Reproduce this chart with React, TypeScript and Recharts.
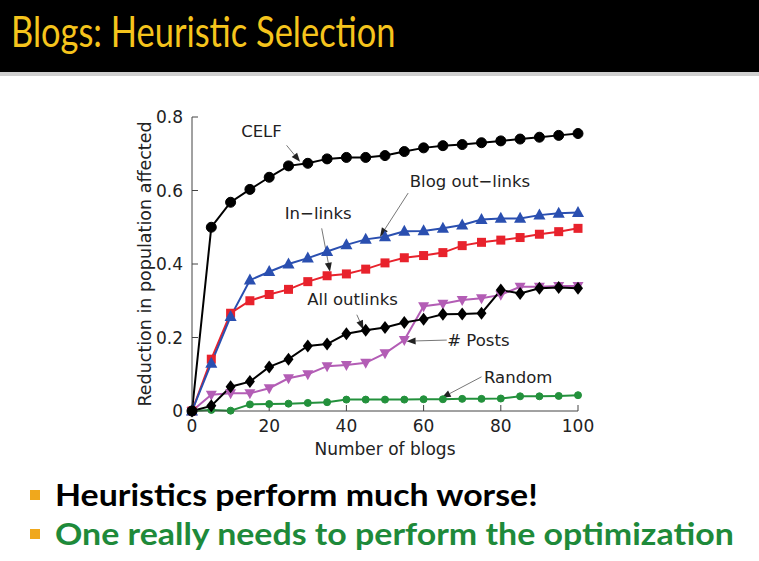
import React from 'react';
import { LineChart, Line, XAxis, YAxis, ReferenceLine, ReferenceDot } from 'recharts';

const blogs = [0, 5, 10, 15, 20, 25, 30, 35, 40, 45, 50, 55, 60, 65, 70, 75, 80, 85, 90, 95, 100];
const celf = [0, 0.5, 0.568, 0.603, 0.636, 0.667, 0.674, 0.686, 0.69, 0.69, 0.695, 0.706, 0.716, 0.722, 0.725, 0.73, 0.735, 0.74, 0.745, 0.75, 0.755];
const blogOutLinks = [0, 0.13, 0.257, 0.356, 0.379, 0.4, 0.416, 0.434, 0.452, 0.467, 0.474, 0.489, 0.49, 0.497, 0.506, 0.521, 0.524, 0.524, 0.533, 0.538, 0.54];
const inLinks = [0, 0.141, 0.266, 0.3, 0.317, 0.331, 0.352, 0.368, 0.373, 0.386, 0.403, 0.417, 0.423, 0.431, 0.45, 0.459, 0.465, 0.472, 0.481, 0.488, 0.497];
const allOutlinks = [0, 0.014, 0.066, 0.08, 0.12, 0.141, 0.177, 0.182, 0.21, 0.22, 0.227, 0.241, 0.25, 0.263, 0.264, 0.266, 0.329, 0.32, 0.334, 0.336, 0.334];
const posts = [0, 0.044, 0.048, 0.048, 0.062, 0.089, 0.1, 0.122, 0.125, 0.131, 0.157, 0.193, 0.285, 0.292, 0.302, 0.307, 0.316, 0.338, 0.338, 0.34, 0.34];
const random = [0, 0.003, 0.001, 0.018, 0.019, 0.02, 0.022, 0.024, 0.031, 0.031, 0.031, 0.031, 0.032, 0.032, 0.033, 0.033, 0.034, 0.04, 0.04, 0.041, 0.043];

const xTicks = [0, 20, 40, 60, 80, 100];
const yTicks = [0, 0.2, 0.4, 0.6, 0.8];

// annotation text + arrow (from -> to) in data coordinates
const notes = [
  { text: 'CELF', tx: 18, ty: 0.762, from: [24.5, 0.723], to: [28, 0.678] },
  { text: 'Blog out\u2212links', tx: 72, ty: 0.626, from: [56, 0.593], to: [48.7, 0.474] },
  { text: 'In\u2212links', tx: 32.7, ty: 0.538, from: [33.6, 0.497], to: [35.75, 0.379] },
  { text: 'All outlinks', tx: 41.6, ty: 0.304, from: [42.7, 0.262], to: [44.4, 0.222] },
  { text: '# Posts', tx: 74.2, ty: 0.193, from: [66, 0.193], to: [55.6, 0.19] },
  { text: 'Random', tx: 84.5, ty: 0.093, from: [75, 0.093], to: [64.7, 0.036] },
];

const data = blogs.map((b, i) => ({
  blogs: b,
  celf: celf[i],
  blogOut: blogOutLinks[i],
  inLinks: inLinks[i],
  allOut: allOutlinks[i],
  posts: posts[i],
  random: random[i],
}));

const FONT = '"DejaVu Sans", "Liberation Sans", sans-serif';
const SLIDE_FONT = 'Lato, "Open Sans", sans-serif';

const makeDot = (kind: string, color: string, size: number) => (props: any) => {
  const { cx, cy, index } = props;
  const k = `${kind}-${index}`;
  if (cx == null || cy == null) return <g key={k} />;
  const s = size;
  if (kind === 'circle') return <circle key={k} cx={cx} cy={cy} r={s} fill={color} stroke={color} />;
  if (kind === 'square') return <rect key={k} x={cx - s} y={cy - s} width={2 * s} height={2 * s} fill={color} />;
  if (kind === 'diamond')
    return <polygon key={k} points={`${cx},${cy - s * 1.3} ${cx + s},${cy} ${cx},${cy + s * 1.3} ${cx - s},${cy}`} fill={color} />;
  if (kind === 'up')
    return <polygon key={k} points={`${cx},${cy - s * 1.2} ${cx + s * 1.1},${cy + s * 0.8} ${cx - s * 1.1},${cy + s * 0.8}`} fill={color} />;
  return <polygon key={k} points={`${cx},${cy + s * 1.2} ${cx + s * 1.1},${cy - s * 0.8} ${cx - s * 1.1},${cy - s * 0.8}`} fill={color} />;
};

const Arrow = (props: any) => {
  const { x1, y1, x2, y2 } = props;
  const ang = Math.atan2(y2 - y1, x2 - x1);
  const len = 9;
  const w = 3.5;
  const bx = x2 - len * Math.cos(ang);
  const by = y2 - len * Math.sin(ang);
  const px = -Math.sin(ang) * w;
  const py = Math.cos(ang) * w;
  return (
    <g>
      <line x1={x1} y1={y1} x2={bx} y2={by} stroke="#777" strokeWidth={1} />
      <polygon points={`${x2},${y2} ${bx + px},${by + py} ${bx - px},${by - py}`} fill="#222" />
    </g>
  );
};

const YLabel = (props: any) => {
  const { viewBox } = props;
  const cx = viewBox.x + 25;
  const cy = viewBox.y + viewBox.height / 2;
  return (
    <text x={cx} y={cy} transform={`rotate(-90 ${cx} ${cy})`} textAnchor="middle" dominantBaseline="central"
      fontFamily={FONT} fontSize={17.5} fill="#222">
      Reduction in population affected
    </text>
  );
};

const Bullet = ({ top, color, children }: { top: number; color: string; children: React.ReactNode }) => (
  <div style={{ position: 'absolute', left: 0, top, width: 759 }}>
    <div style={{ position: 'absolute', left: 30, top: 13, width: 10, height: 10, background: '#f0a81c' }} />
    <div style={{ position: 'absolute', left: 55, top: 0, fontFamily: SLIDE_FONT, fontWeight: 700, fontSize: 30, color, whiteSpace: 'nowrap', lineHeight: '34px', transform: 'scaleX(1.13)', transformOrigin: 'left center' }}>
      {children}
    </div>
  </div>
);

export default function App() {
  return (
    <div style={{ position: 'absolute', left: 0, top: 0, width: 759, height: 561, background: '#fff', overflow: 'hidden' }}>
      <div style={{ position: 'absolute', left: 0, top: 0, width: 759, height: 72, background: '#000' }}>
        <div style={{ position: 'absolute', left: 11, top: 3, fontFamily: SLIDE_FONT, fontSize: 42, color: '#f5c41c', whiteSpace: 'nowrap', lineHeight: '56px', transform: 'scaleX(0.82)', transformOrigin: 'left center' }}>
          Blogs: Heuristic Selection
        </div>
      </div>
      <div style={{ position: 'absolute', left: 0, top: 72, width: 759, height: 4, background: '#cfcfcf' }} />

      <div style={{ position: 'absolute', left: 120, top: 100 }}>
        <LineChart width={480} height={360} data={data} margin={{ top: 17, right: 22, left: 0, bottom: 4 }}>
          <XAxis dataKey="blogs" type="number" domain={[0, 100]} ticks={xTicks} tickSize={-6} tickMargin={15}
            stroke="#444" tick={{ fill: '#222', fontSize: 17, fontFamily: FONT }} height={45}
            label={{ value: 'Number of blogs', position: 'insideBottom', offset: 1, fill: '#222', fontSize: 17, fontFamily: FONT }} />
          <XAxis xAxisId="top" dataKey="blogs" type="number" domain={[0, 100]} ticks={xTicks} orientation="top" mirror
            height={0} tickSize={6} stroke="#444" tickFormatter={() => ''} />
          <YAxis type="number" domain={[0, 0.8]} ticks={yTicks} width={72} tickSize={-6} tickMargin={15}
            stroke="#444" tick={{ fill: '#222', fontSize: 17, fontFamily: FONT }}
            tickFormatter={(v: number) => (v === 0 ? '0' : String(v))} label={<YLabel />} />
          <YAxis yAxisId="right" type="number" domain={[0, 0.8]} ticks={yTicks} orientation="right" mirror
            width={0} tickSize={6} stroke="#444" tickFormatter={() => ''} />

          <Line dataKey="random" stroke="#23913c" strokeWidth={2} dot={makeDot('circle', '#23913c', 3.5)} isAnimationActive={false} />
          <Line dataKey="posts" stroke="#b35db5" strokeWidth={2} dot={makeDot('down', '#b35db5', 5)} isAnimationActive={false} />
          <Line dataKey="allOut" stroke="#000" strokeWidth={2} dot={makeDot('diamond', '#000', 5)} isAnimationActive={false} />
          <Line dataKey="inLinks" stroke="#e8222c" strokeWidth={2} dot={makeDot('square', '#e8222c', 4.5)} isAnimationActive={false} />
          <Line dataKey="blogOut" stroke="#2a4fb0" strokeWidth={2} dot={makeDot('up', '#2a4fb0', 5.5)} isAnimationActive={false} />
          <Line dataKey="celf" stroke="#000" strokeWidth={2} dot={makeDot('circle', '#000', 5)} isAnimationActive={false} />

          {notes.map((n) => (
            <ReferenceLine key={`a-${n.text}`} segment={[{ x: n.from[0], y: n.from[1] }, { x: n.to[0], y: n.to[1] }]}
              shape={<Arrow />} ifOverflow="visible" />
          ))}
          {notes.map((n) => (
            <ReferenceDot key={`t-${n.text}`} x={n.tx} y={n.ty} r={0} ifOverflow="visible" stroke="none"
              label={{ value: n.text, position: 'center', fill: '#222', fontSize: 16.5, fontFamily: FONT }} />
          ))}
        </LineChart>
      </div>

      <Bullet top={477} color="#000">Heuristics perform much worse!</Bullet>
      <Bullet top={516} color="#1e8a3a">One really needs to perform the optimization</Bullet>
    </div>
  );
}
